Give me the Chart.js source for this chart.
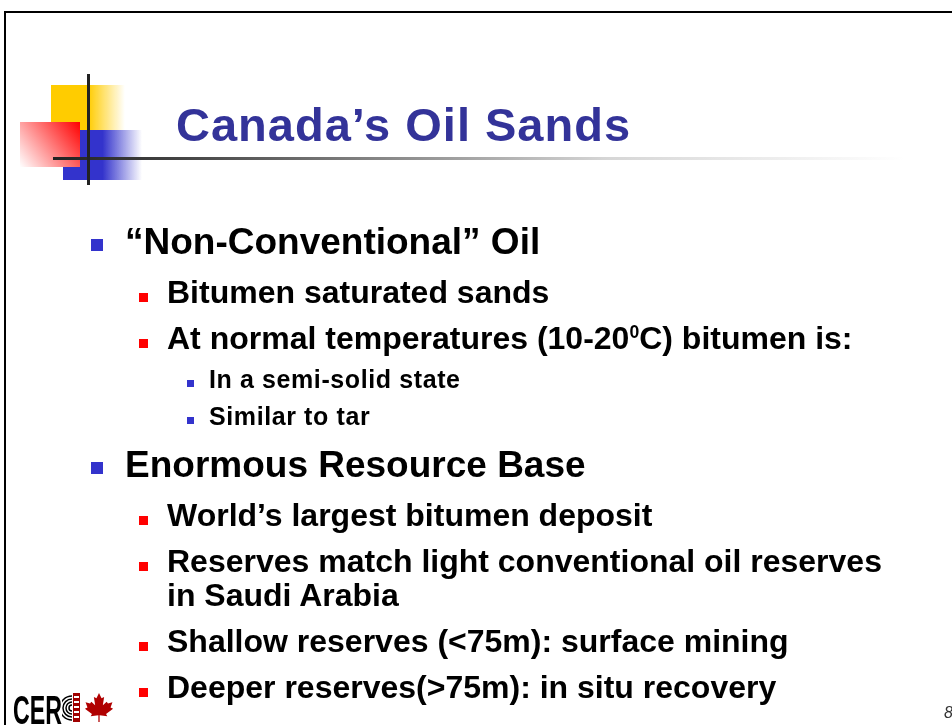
<!DOCTYPE html>
<html>
<head>
<meta charset="utf-8">
<script src="https://cdn.jsdelivr.net/npm/chart.js@4/dist/chart.umd.min.js"></script>
<style>
	html, body {
		margin: 0;
		padding: 0;
		background: #ffffff;
		overflow: hidden;
	}

	#slide {
		position: relative;
		width: 952px;
		height: 725px;
		font-family: "Liberation Sans", Arial, sans-serif;
		font-weight: bold;
		color: #000000;
	}

	#slideCanvas {
		position: absolute;
		left: 0;
		top: 0;
	}

	#title {
		position: absolute;
		left: 176px;
		top: 101px;
		font-size: 47px;
		line-height: 47px;
		letter-spacing: 1px;
		color: #333399;
		white-space: nowrap;
	}

	#bullets {
		position: absolute;
		left: 0;
		top: 221px;
		width: 890px;
		margin: 0;
		padding: 0;
		list-style: none;
	}

	#bullets li {
		margin: 0;
	}

	#bullets .mark {
		display: inline-block;
		text-indent: 0;
	}

	.l1 {
		font-size: 37px;
		line-height: 42px;
		padding-left: 125px;
		text-indent: -34px;
		margin-top: 15px !important;
	}

	.l1 .mark {
		width: 12px;
		height: 12px;
		margin-right: 22px;
		margin-bottom: 3px;
		background: #3333cc;
	}

	.l2 {
		font-size: 32px;
		line-height: 34px;
		padding-left: 167px;
		text-indent: -28px;
		margin-top: 12px !important;
	}

	.l2 .mark {
		width: 9px;
		height: 9px;
		margin-right: 19px;
		margin-bottom: 1px;
		background: #ff0000;
	}

	.l3 {
		font-size: 25px;
		line-height: 26px;
		letter-spacing: 0.6px;
		padding-left: 209px;
		text-indent: -22px;
		margin-top: 11px !important;
	}

	.l3 .mark {
		width: 7px;
		height: 7px;
		margin-right: 15px;
		margin-bottom: 1px;
		background: #3333cc;
	}

	#bullets li:first-child {
		margin-top: 0 !important;
	}

	sup {
		font-size: 55%;
		vertical-align: 0.65em;
		line-height: 0;
	}

	#logoText {
		position: absolute;
		left: 13px;
		top: 690px;
		font-family: "Liberation Sans", Arial, sans-serif;
		font-weight: bold;
		font-size: 40px;
		line-height: 40px;
		transform: scaleX(0.58);
		transform-origin: left top;
		color: #000000;
	}

	#pageNum {
		position: absolute;
		left: 944px;
		top: 704px;
		font-size: 16px;
		font-weight: normal;
		font-style: italic;
		color: #333333;
	}
</style>
</head>
<body>
<div id="slide">
	<canvas id="slideCanvas" width="952" height="725"></canvas>
	<div id="title"></div>
	<ul id="bullets"></ul>
	<div id="logoText">CER</div>
	<div id="pageNum">8</div>
</div>

<script>
	const slideTitle = "Canada\u2019s Oil Sands";

	const bulletLevels = [1, 2, 2, 3, 3, 1, 2, 2, 2, 2];

	const bulletTexts = [
		"\u201CNon-Conventional\u201D Oil",
		"Bitumen saturated sands",
		"At normal temperatures (10-20<sup>0</sup>C) bitumen is:",
		"In a semi-solid state",
		"Similar to tar",
		"Enormous Resource Base",
		"World\u2019s largest bitumen deposit",
		"Reserves match light conventional oil reserves in Saudi Arabia",
		"Shallow reserves (&lt;75m): surface mining",
		"Deeper reserves(&gt;75m): in situ recovery"
	];

	const pageNumber = "8";

	document.getElementById('title').textContent = slideTitle;
	document.getElementById('pageNum').textContent = pageNumber;

	const list = document.getElementById('bullets');
	bulletTexts.forEach(function (txt, i) {
		const li = document.createElement('li');
		li.className = 'l' + bulletLevels[i];
		li.innerHTML = '<span class="mark"></span>' + txt;
		list.appendChild(li);
	});

	// draws the slide frame, the title decoration and the logo marks
	const slideDecor = {
		id: 'slideDecor',
		beforeDraw: function (chart) {
			const ctx = chart.ctx;
			ctx.save();

			// frame
			ctx.fillStyle = '#000000';
			ctx.fillRect(4, 11, 948, 2);
			ctx.fillRect(4, 11, 2, 714);

			// yellow square
			let g = ctx.createLinearGradient(51, 0, 125, 0);
			g.addColorStop(0, '#ffcc00');
			g.addColorStop(0.5, '#ffcc00');
			g.addColorStop(1, 'rgba(255,204,0,0)');
			ctx.fillStyle = g;
			ctx.fillRect(51, 85, 74, 45);

			// blue square
			g = ctx.createLinearGradient(63, 0, 142, 0);
			g.addColorStop(0, '#3333cc');
			g.addColorStop(0.5, '#3333cc');
			g.addColorStop(1, 'rgba(51,51,204,0)');
			ctx.fillStyle = g;
			ctx.fillRect(63, 130, 79, 50);

			// red square, fading to the lower left
			g = ctx.createLinearGradient(80, 122, 20, 167);
			g.addColorStop(0, '#ff0000');
			g.addColorStop(1, '#ffffff');
			ctx.fillStyle = g;
			ctx.fillRect(20, 122, 60, 45);

			// title rule
			g = ctx.createLinearGradient(53, 0, 905, 0);
			g.addColorStop(0, '#222222');
			g.addColorStop(0.15, '#444444');
			g.addColorStop(0.45, '#999999');
			g.addColorStop(0.65, '#d6d6d6');
			g.addColorStop(1, '#ffffff');
			ctx.fillStyle = g;
			ctx.fillRect(53, 157, 852, 3);

			// vertical bar of the cross
			ctx.fillStyle = '#222222';
			ctx.fillRect(87, 74, 3, 111);

			// logo: ring mark
			ctx.beginPath();
			ctx.rect(62, 693, 10, 29);
			ctx.clip();
			ctx.strokeStyle = '#000000';
			ctx.lineWidth = 1.5;
			[3, 6, 9, 12].forEach(function (r) {
				ctx.beginPath();
				ctx.arc(72, 708, r, 0, Math.PI * 2);
				ctx.stroke();
			});
			ctx.restore();
			ctx.save();
			ctx.fillStyle = '#a00000';
			ctx.fillRect(73, 693, 7, 29);
			ctx.fillStyle = '#ffffff';
			for (let y = 696; y < 720; y += 5) {
				ctx.fillRect(74, y, 5, 2);
			}

			// logo: maple leaf
			const leaf = [
				[0.5, 0], [0.42, 0.18], [0.34, 0.14], [0.38, 0.42], [0.26, 0.3],
				[0.22, 0.36], [0.08, 0.32], [0.14, 0.5], [0.06, 0.54], [0.28, 0.72],
				[0.24, 0.8], [0.48, 0.77], [0.48, 1.0], [0.52, 1.0], [0.52, 0.77],
				[0.76, 0.8], [0.72, 0.72], [0.94, 0.54], [0.86, 0.5], [0.92, 0.32],
				[0.78, 0.36], [0.74, 0.3], [0.62, 0.42], [0.66, 0.14], [0.58, 0.18]
			];
			ctx.fillStyle = '#b00000';
			ctx.beginPath();
			leaf.forEach(function (p, i) {
				const x = 83 + p[0] * 32;
				const y = 693 + p[1] * 29;
				if (i === 0) ctx.moveTo(x, y); else ctx.lineTo(x, y);
			});
			ctx.closePath();
			ctx.fill();

			ctx.restore();
		}
	};

	const slideChart = new Chart(
		document.getElementById('slideCanvas'),
		{
			type: 'scatter',
			data: { datasets: [] },
			options: {
				responsive: false,
				animation: false,
				devicePixelRatio: 1,
				layout: { padding: 0 },
				plugins: {
					legend: { display: false },
					tooltip: { enabled: false }
				},
				scales: {
					x: { display: false },
					y: { display: false }
				}
			},
			plugins: [slideDecor]
		}
	);
</script>
</body>
</html>
